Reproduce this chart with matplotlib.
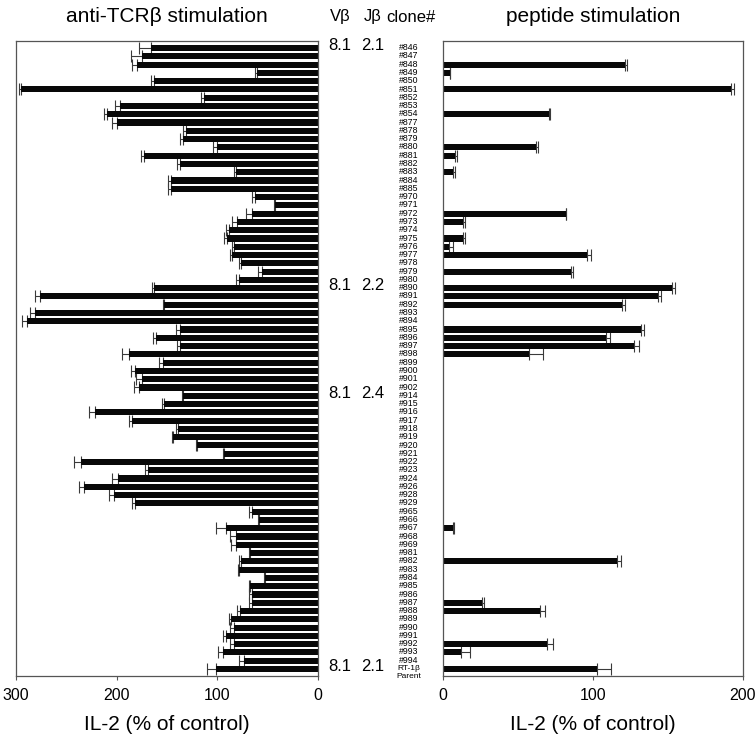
import matplotlib
matplotlib.use("Agg")
import matplotlib.pyplot as plt
import numpy as np

plt.rcParams['font.family'] = ['Liberation Sans', 'DejaVu Sans']

clones = ['#846', '#847', '#848', '#849', '#850', '#851', '#852', '#853', '#854',
          '#877', '#878', '#879', '#880', '#881', '#882', '#883', '#884', '#885',
          '#970', '#971', '#972', '#973', '#974', '#975', '#976', '#977', '#978', '#979', '#980',
          '#890', '#891', '#892', '#893', '#894', '#895', '#896', '#897', '#898', '#899',
          '#900', '#901', '#902',
          '#914', '#915', '#916', '#917', '#918', '#919', '#920', '#921', '#922', '#923', '#924',
          '#926', '#928', '#929',
          '#965', '#966', '#967', '#968', '#969',
          '#981', '#982', '#983', '#984', '#985', '#986', '#987', '#988', '#989', '#990',
          '#991', '#992', '#993', '#994',
          'RT-1β\nParent']

# anti-TCRbeta stimulation (IL-2, % of control) and SD
tcr_values = [166, 174.5, 179.5, 61, 163, 295, 113, 197, 210,
              200, 131, 134.5, 100, 173, 137, 81.5, 146, 146,
              62.6, 42.4, 66, 80.5, 88, 90, 83.4, 85, 76.8, 55.6, 78,
              163, 276, 152.7, 281, 289, 137, 161, 137, 188, 154,
              182, 174.5, 178,
              134, 153, 222, 185, 139, 144, 120.5, 93, 235.4, 169, 199,
              232, 203, 182,
              66, 59, 91.4, 81.5, 81.5,
              67.5, 76.5, 78, 52.3, 67.5, 66, 66, 77.5, 86, 83,
              91.4, 83, 94.7, 74,
              101]
tcr_sd = [12, 11.5, 5, 1.5, 3, 2, 3, 5, 3,
          5, 3, 2.5, 4, 3, 3, 1.5, 3, 3,
          2.5, 1, 5.5, 4.5, 3, 3, 2, 2, 1.7, 4.4, 3.5,
          1.5, 5, 1, 5, 5, 4, 3, 3, 7, 4,
          4, 6.5, 5,
          1.5, 1.5, 5, 2.5, 2, 1.5, 1, 1, 6.5, 3, 6,
          5, 5, 2.5,
          3, 1, 9.6, 5.5, 4.5,
          1.5, 1.5, 1.5, 1.7, 1.5, 3, 3, 3.3, 2.5, 4,
          3.3, 4, 4.3, 4,
          9]

# peptide stimulation (IL-2, % of control) and SD
pep_values = [0, 0, 121.3, 4.7, 0, 192, 0, 0, 70.9,
              0, 0, 0, 61.8, 8, 0, 6.9, 0, 0,
              0, 0, 81.8, 13.6, 0, 13.6, 4.2, 96.2, 0, 85.1, 0,
              152.9, 143.6, 119.6, 0, 0, 132, 108.7, 127.6, 57.3, 0,
              0, 0, 0,
              0, 0, 0, 0, 0, 0, 0, 0, 0, 0, 0,
              0, 0, 0,
              0, 0, 6.4, 0, 0,
              0, 116.2, 0, 0, 0, 0, 25.8, 64.7, 0, 0,
              0, 69.1, 11.8, 0,
              102.9]
pep_sd = [0, 0, 1.1, 0, 0, 2, 0, 0, 0.5,
          0, 0, 0, 1.2, 1.1, 0, 1.3, 0, 0,
          0, 0, 0.4, 1.1, 0, 1.1, 2.2, 2.5, 0, 1.8, 0,
          1.8, 1.7, 1.7, 0, 0, 2, 2.6, 2.8, 9.1, 0,
          0, 0, 0,
          0, 0, 0, 0, 0, 0, 0, 0, 0, 0, 0,
          0, 0, 0,
          0, 0, 0.7, 0, 0,
          0, 2.5, 0, 0, 0, 0, 1.5, 3.5, 0, 0,
          0, 4, 6.2, 0,
          9.1]

# Vbeta / Jbeta group annotations (clone at which label appears)
group_clones = ['#846', '#890', '#914', 'RT-1β\nParent']
group_vb = ['8.1', '8.1', '8.1', '8.1']
group_jb = ['2.1', '2.2', '2.4', '2.1']

tcr_ticks = [300, 200, 100, 0]
pep_ticks = [0, 100, 200]

W, H = 756, 739
fig = plt.figure(figsize=(W / 100, H / 100), dpi=100)

def fx(px):
    return px / W

def fy(py):
    return 1 - py / H

top_px, bot_px = 41, 676
axL = fig.add_axes([fx(16), fy(bot_px), fx(318 - 16), (bot_px - top_px) / H])
axR = fig.add_axes([fx(443), fy(bot_px), fx(743 - 443), (bot_px - top_px) / H])

n = len(clones)
y = np.arange(n)
bar_h = 0.74
ecol = '#3a3a3a'

# left panel
axL.barh(y, tcr_values, height=bar_h, color='#080808', zorder=2)
tv = np.array(tcr_values)
ts = np.array(tcr_sd)
axL.errorbar(tv, y, xerr=[np.zeros(n), ts], fmt='none', ecolor=ecol,
             elinewidth=0.8, capsize=4, capthick=0.8, zorder=1)
axL.set_xlim(300, 0)
axL.set_xticks(tcr_ticks)

# right panel
pv = np.array(pep_values)
ps = np.array(pep_sd)
axR.barh(y, pv, height=bar_h, color='#080808', zorder=2)
mask = pv > 0
axR.errorbar(pv[mask], y[mask], xerr=[np.zeros(mask.sum()), ps[mask]], fmt='none',
             ecolor=ecol, elinewidth=0.8, capsize=4, capthick=0.8, zorder=1)
axR.set_xlim(0, 200)
axR.set_xticks(pep_ticks)

for ax in (axL, axR):
    ax.set_ylim(n - 1 + 0.85, -0.85)
    ax.set_yticks([])
    for s in ax.spines.values():
        s.set_linewidth(0.9)
        s.set_color('#555555')
    ax.tick_params(axis='x', direction='out', length=3, width=0.8, color='#555555',
                   labelsize=11.5, pad=6)
    ax.set_xlabel('IL-2 (% of control)', fontsize=15, labelpad=8)

# clone labels in the middle
trans = matplotlib.transforms.blended_transform_factory(fig.transFigure, axL.transData)
for i, c in enumerate(clones):
    if '\n' in c:
        top, bottom = c.split('\n')
        fig.text(fx(409), i - 0.05, top, transform=trans, ha='center', va='center',
                 fontsize=6)
        fig.text(fx(409), i + 0.85, bottom, transform=trans, ha='center', va='center',
                 fontsize=6)
    else:
        fig.text(fx(409), i - 0.05, c, transform=trans, ha='center', va='center',
                 fontsize=6.3)

for gc, vb, jb in zip(group_clones, group_vb, group_jb):
    i = clones.index(gc)
    fig.text(fx(340), i - 0.3, vb, transform=trans, ha='center', va='center', fontsize=12)
    fig.text(fx(373), i - 0.3, jb, transform=trans, ha='center', va='center', fontsize=12)

fig.text(fx(167), fy(17), 'anti-TCRβ stimulation', ha='center', va='center', fontsize=15)
fig.text(fx(593), fy(17), 'peptide stimulation', ha='center', va='center', fontsize=15)
fig.text(fx(340), fy(17), 'Vβ', ha='center', va='center', fontsize=12)
fig.text(fx(373), fy(17), 'Jβ', ha='center', va='center', fontsize=12)
fig.text(fx(411), fy(17), 'clone#', ha='center', va='center', fontsize=12)

fig.savefig('out.png', dpi=100)
